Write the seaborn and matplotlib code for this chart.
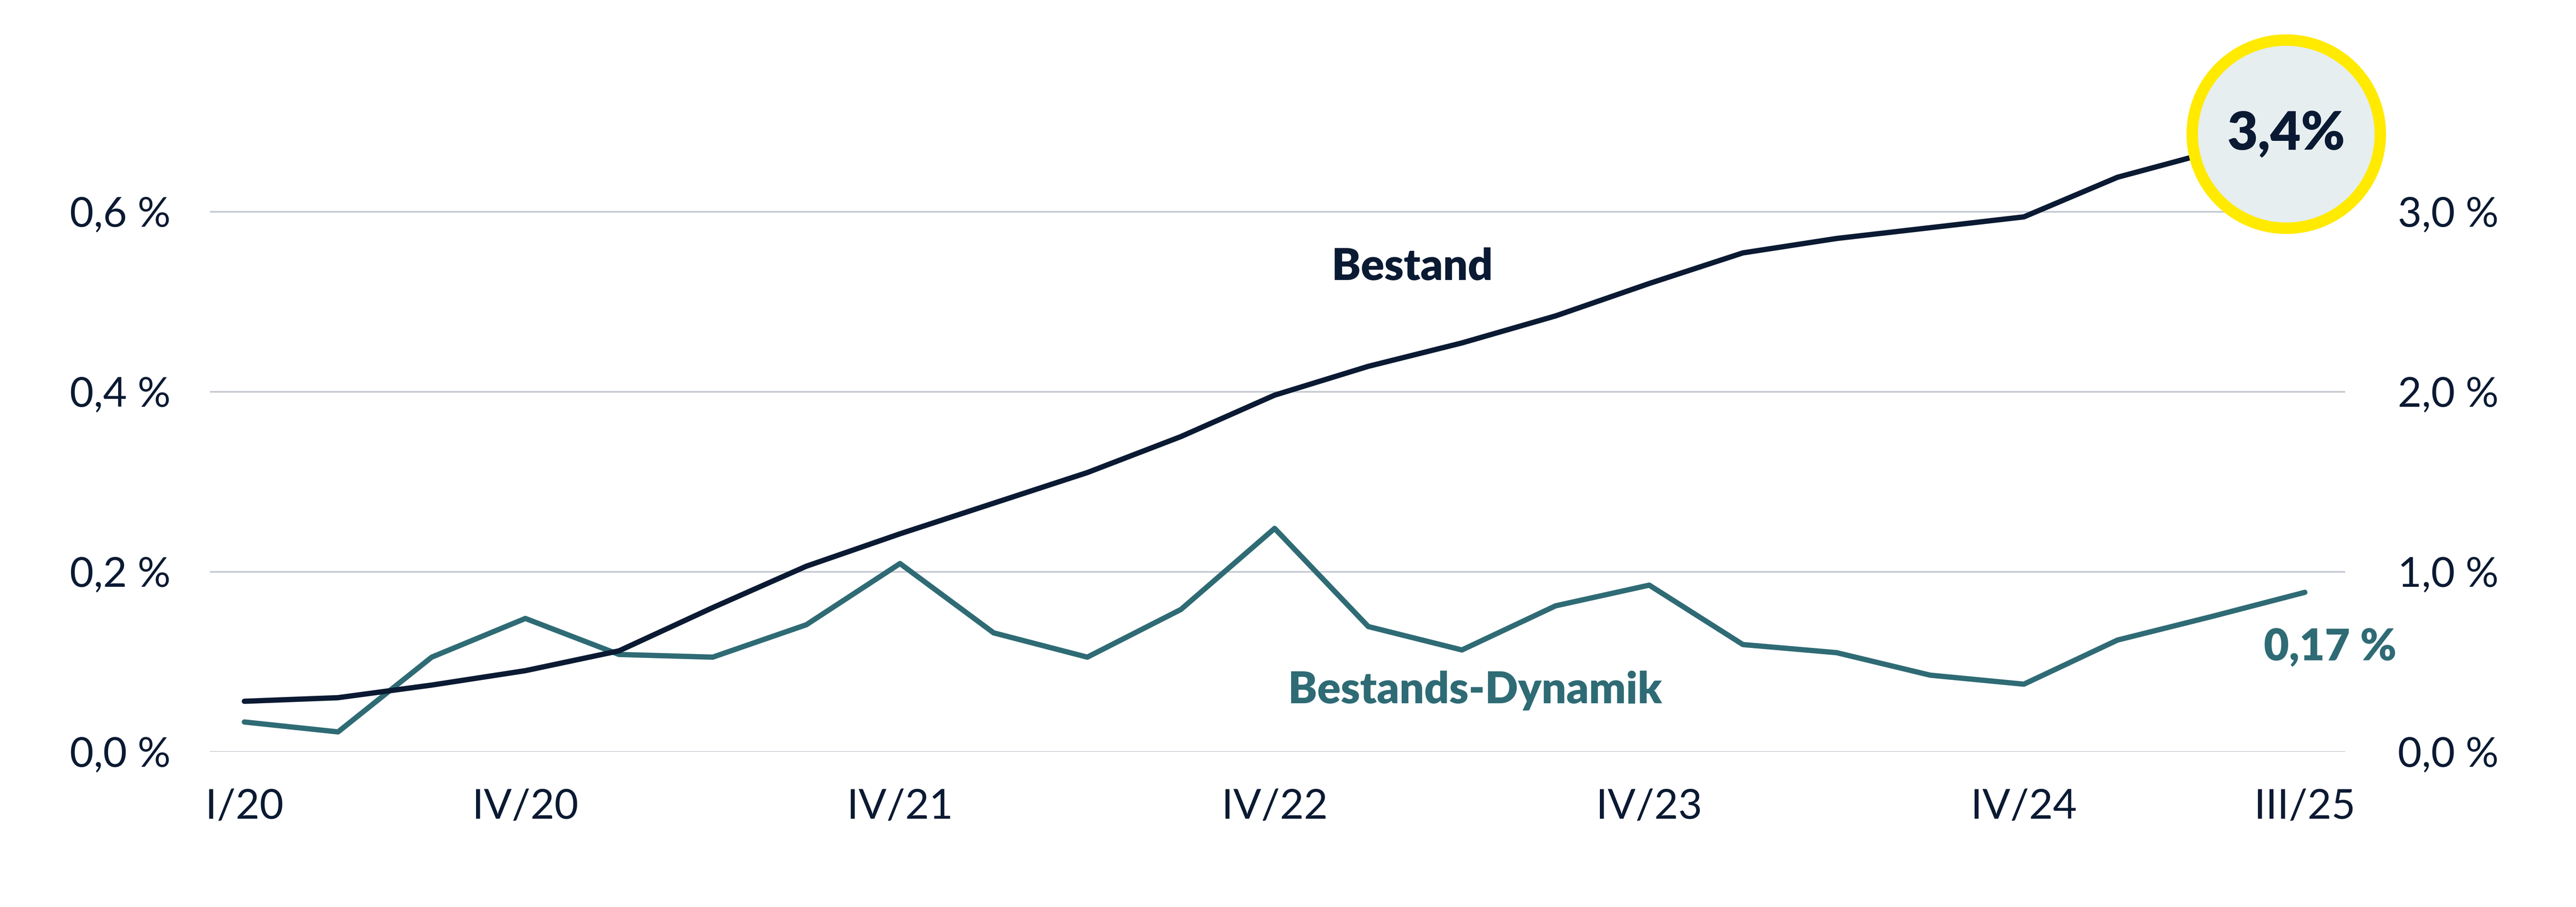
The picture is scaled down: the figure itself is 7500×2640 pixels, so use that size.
import matplotlib
matplotlib.use("Agg")
import matplotlib.pyplot as plt
import seaborn as sns
import pandas as pd

quarters = ["I/20","II/20","III/20","IV/20","I/21","II/21","III/21","IV/21","I/22","II/22","III/22","IV/22",
            "I/23","II/23","III/23","IV/23","I/24","II/24","III/24","IV/24","I/25","II/25","III/25"]
dynamik = [0.033,0.022,0.105,0.148,0.108,0.105,0.141,0.209,0.132,0.105,0.158,0.248,
           0.139,0.113,0.162,0.185,0.119,0.110,0.085,0.075,0.124,0.150,0.177]
bestand = [0.28,0.30,0.37,0.45,0.56,0.80,1.03,1.21,1.38,1.55,1.75,1.98,
           2.14,2.27,2.42,2.60,2.77,2.85,2.91,2.97,3.19,3.33,3.42]
tick_labels = ["I/20","IV/20","IV/21","IV/22","IV/23","IV/24","III/25"]

df = pd.DataFrame({"q": range(len(quarters)), "dyn": dynamik, "best": bestand})

sns.set_theme(style="white")
plt.rcParams['font.family'] = ['Lato', 'DejaVu Sans']
navy = "#0b1a33"; teal = "#2f6b75"; grid = "#c3c8d0"

fig = plt.figure(figsize=(15.6, 2640/480.83), dpi=480.83)
ax = fig.add_axes([127/1560, 1-455/549, (1420-127)/1560, (455-19)/549])
ax2 = ax.twinx()

sns.lineplot(data=df, x="q", y="dyn", ax=ax, color=teal, linewidth=2.3)
sns.lineplot(data=df, x="q", y="best", ax=ax2, color=navy, linewidth=2.3)

ax.set_xlim(-0.37, 22.43)
ax.set_ylim(0, 0.8); ax2.set_ylim(0, 4.0)
ax.set_yticks([0, 0.2, 0.4, 0.6])
ax2.set_yticks([0, 1, 2, 3])
ax.set_yticklabels([f"{v:.1f} %".replace(".", ",") for v in [0, 0.2, 0.4, 0.6]])
ax2.set_yticklabels([f"{v:.1f} %".replace(".", ",") for v in [0, 1, 2, 3]])
ax.set_xticks([quarters.index(t) for t in tick_labels])
ax.set_xticklabels(tick_labels)
for a in (ax, ax2):
    a.set_xlabel(""); a.set_ylabel("")
    for s in a.spines.values(): s.set_visible(False)
    a.tick_params(length=0, labelsize=18, labelcolor=navy)
ax.tick_params(axis='y', pad=17)
ax2.tick_params(axis='y', pad=23)
ax.tick_params(axis='x', pad=16)
ax.yaxis.grid(True, color=grid, linewidth=0.7)
ax.set_axisbelow(True)

ax.text(12.47, 0.538, "Bestand", color=navy, fontsize=19, fontweight='heavy', ha='center', va='center')
ax.text(13.14, 0.068, "Bestands-Dynamik", color=teal, fontsize=19, fontweight='heavy', ha='center', va='center')
ax.text(22.27, 0.116, "0,17 %", color=teal, fontsize=19, fontweight='heavy', ha='center', va='center', clip_on=False)

ax2.plot([21.8], [3.43], marker='o', markersize=82, markerfacecolor="#e6eef0",
         markeredgecolor="#ffea00", markeredgewidth=5, clip_on=False, zorder=5)
ax2.text(21.8, 3.43, "3,4%", color=navy, fontsize=23, fontweight='heavy', ha='center', va='center', zorder=6)

fig.savefig("out.png", dpi=480.83)
